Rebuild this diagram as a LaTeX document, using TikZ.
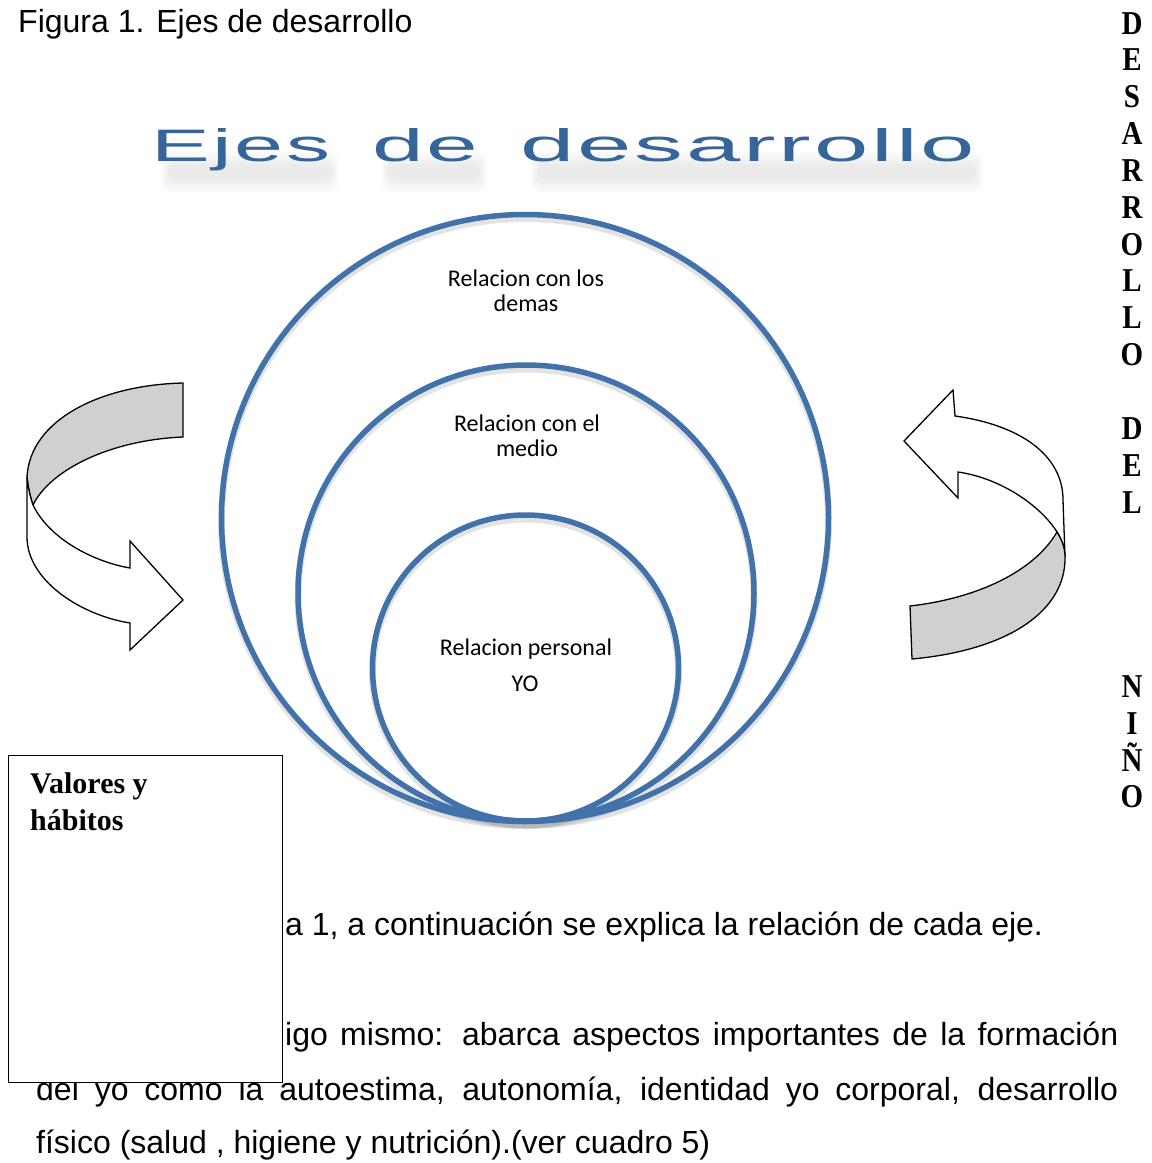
\documentclass[tikz,border=0pt]{standalone}
\usepackage{fontspec}
\usepackage{graphicx}
\setmainfont{Liberation Sans}
\newfontfamily\serifb{Liberation Serif}
\newfontfamily\calib{Carlito}
\newfontfamily\titlefont[LetterSpace=3]{Liberation Sans}
\definecolor{ringblue}{RGB}{66,114,170}
\definecolor{titleblue}{RGB}{54,101,154}
\definecolor{bandgray}{RGB}{208,208,208}
\begin{document}
\begin{tikzpicture}[x=1pt,y=-1pt,
  ring/.style={draw=ringblue, line width=5.5pt, circle, inner sep=0pt},
  ringshadow/.style={draw=black!60, opacity=0.18, line width=7pt, circle, inner sep=0pt},
  lbl/.style={font=\calib\fontsize{24}{27}\selectfont, inner sep=0pt, anchor=base},
  body/.style={font=\fontsize{32}{38}\selectfont, inner sep=0pt, anchor=base west},
  vlet/.style={font=\serifb\bfseries\fontsize{29}{30}\selectfont, inner sep=0pt, anchor=base},
  boxtxt/.style={font=\serifb\bfseries\fontsize{30}{36}\selectfont, inner sep=0pt, anchor=base west},
  ttl/.style={font=\titlefont, inner sep=0pt, anchor=base west, text=titleblue},
  haze/.style={fill=black, opacity=0.02, rounded corners=8pt},
  ribbon/.style={draw=black, line width=1.3pt, line join=miter}]
\useasboundingbox (0,0) rectangle (1152,1163);
\fill[white] (0,0) rectangle (1152,1163);

% caption
\node[body] (cap) at (18,32) {Figura 1. Ejes de desarrollo};

% title shadow (soft haze, stacked layers)
\foreach \h in {16,12,8,4} {
  \fill[haze] (170-\h/2,168-\h) rectangle (330+\h/2,176+\h);
  \fill[haze] (390-\h/2,168-\h) rectangle (478+\h/2,176+\h);
  \fill[haze] (539-\h/2,168-\h) rectangle (974+\h/2,176+\h);
}
% title
\node[ttl] (t1) at (151,161) {\resizebox{179pt}{33pt}{Ejes}};
\node[ttl] (t2) at (372,161) {\resizebox{106pt}{33pt}{de}};
\node[ttl] (t3) at (520,161) {\resizebox{455pt}{33pt}{desarrollo}};

% circle shadows
\node[ringshadow, minimum size=607pt] at (525,522) {};
\node[ringshadow, minimum size=456pt] at (526,597) {};
\node[ringshadow, minimum size=306pt] at (525.5,672) {};
% circles
\node[ring, minimum size=607pt] (outer) at (525,518) {};
\node[ring, minimum size=456pt] (middle) at (526,593) {};
\node[ring, minimum size=306pt] (inner) at (525.5,668) {};

% circle labels
\node[lbl] (l1a) at (526,286) {Relacion con los};
\node[lbl] (l1b) at (526,311) {demas};
\node[lbl] (l2a) at (527,431) {Relacion con el};
\node[lbl] (l2b) at (527,456) {medio};
\node[lbl] (l3a) at (526,655) {Relacion personal};
\node[lbl] (l3b) at (525,691) {YO};

% left curved arrow
\filldraw[ribbon, fill=bandgray] (183,383) .. controls (100,385) and (30,420) .. (27,477)
  .. controls (28,487) and (30,496) .. (33,505)
  .. controls (50,470) and (110,440) .. (183,437) -- cycle;
\filldraw[ribbon, fill=white] (27,477) -- (27,537)
  .. controls (27,580) and (80,615) .. (130,623)
  -- (130,650) -- (183,600) -- (130,541) -- (130,568)
  .. controls (95,562) and (50,540) .. (33,505)
  .. controls (30,496) and (28,487) .. (27,477) -- cycle;

% right curved arrow
\filldraw[ribbon, fill=white] (1065,557) -- (1063,500)
  .. controls (1063,455) and (1020,425) .. (955,416)
  -- (953,390) -- (904,441) -- (958,498) -- (958,472)
  .. controls (1000,478) and (1040,505) .. (1057,532)
  .. controls (1062,540) and (1065,548) .. (1065,557) -- cycle;
\filldraw[ribbon, fill=bandgray] (910,606) .. controls (980,598) and (1035,570) .. (1057,532)
  .. controls (1062,540) and (1065,548) .. (1065,557)
  .. controls (1066,610) and (1010,650) .. (912,659) -- cycle;

% vertical letters
\foreach \i/\c in {0/D,1/E,2/S,3/A,4/R,5/R,6/O,7/L,8/L,9/O,11/D,12/E,13/L,18/N,19/I,20/Ñ,21/O} {
  \node[vlet] (v\i) at (1132,{34+36.85*\i}) {\scalebox{1}[1.15]{\c}};
}

% body text
\node[body] (b1) at (285,935) {a 1, a continuación se explica la relación de cada eje.};
\node[body] (b2) at (285,1045) {\makebox[833pt][s]{igo mismo: abarca aspectos importantes de la formación}};
\node[body] (b3) at (36,1100) {\makebox[1082pt][s]{del yo como la autoestima, autonomía, identidad yo corporal, desarrollo}};
\node[body] (b4) at (36,1153) {físico (salud , higiene y nutrición).(ver cuadro 5)};

% box on top
\node[draw=black, fill=white, line width=1.2pt, minimum width=274pt, minimum height=327pt, inner sep=0pt, anchor=north west] (vbox) at (8,755) {};
\node[boxtxt] (bx1) at (30,793) {Valores y};
\node[boxtxt] (bx2) at (30,830) {hábitos};
\end{tikzpicture}
\end{document}
